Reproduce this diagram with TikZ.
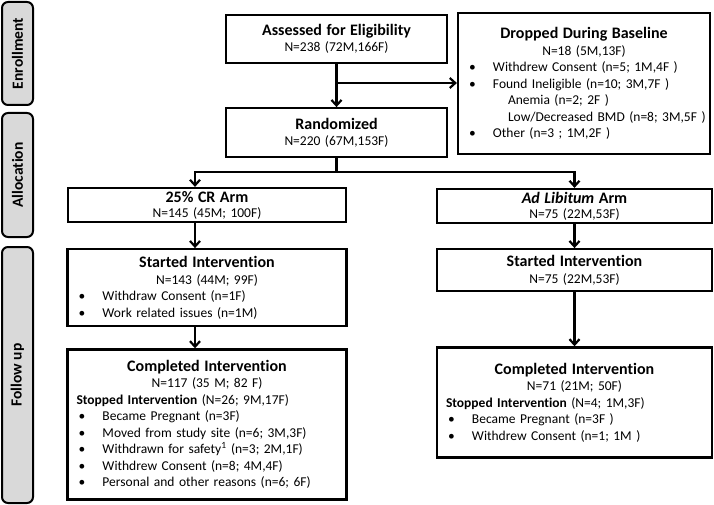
\documentclass[tikz,border=0pt]{standalone}
\usepackage{fontspec}
\setmainfont{Carlito}[Ligatures=NoCommon]
\usetikzlibrary{positioning, arrows.meta}
\setlength{\parindent}{0pt}
\newcommand{\ttl}[1]{{\fontsize{16}{18}\selectfont\bfseries #1}}
\newcommand{\bul}{\makebox[26pt][l]{\hspace{2pt}\textbullet}}

\begin{document}
\begin{tikzpicture}[x=1pt, y=-1pt,
    box/.style={draw, line width=2.2pt, inner xsep=9pt, inner ysep=0pt, align=left,
      font=\fontsize{13.5}{16.5}\selectfont},
    cbox/.style={box, align=center},
    tight/.style={font=\fontsize{13.5}{15}\selectfont},
    phase/.style={draw, line width=2pt, fill=black!15, rounded corners=6pt, rotate=90,
      minimum height=31pt, inner sep=0pt, font=\fontsize{15.5}{18}\selectfont\bfseries},
    arr/.style={-{Straight Barb[length=5.5pt,width=10pt]}, line width=2.2pt},
    link/.style={line width=2.2pt}]
  \useasboundingbox (0,0) rectangle (714,505);

  % phases
  \node[phase, minimum width=103pt] (enrol) at (17.5,53.5) {Enrollment};
  \node[phase, minimum width=124pt] (alloc) at (17.5,175) {Allocation};
  \node[phase, minimum width=256pt] (follow) at (17.5,375) {Follow up};

  % enrollment
  \node[cbox, minimum width=221pt, text width=203pt, minimum height=48pt] (assess) at (336.5,39)
    {\ttl{Assessed for Eligibility}\\ N=238 (72M,166F)};
  \node[box, minimum width=252pt, text width=234pt, minimum height=141pt] (dropped) at (584,83.5)
    {{\centering\ttl{Dropped During Baseline}\\ N=18 (5M,13F)\par}
     \bul Withdrew Consent (n=5; 1M,4F )\\
     \bul Found Ineligible (n=10; 3M,7F )\\
     \hspace*{41pt}Anemia (n=2; 2F )\\
     \hspace*{41pt}\mbox{Low/Decreased BMD (n=8; 3M,5F )}\\
     \bul Other (n=3 ; 1M,2F )};
  \node[cbox, minimum width=221pt, text width=203pt, minimum height=49pt, below=43pt of assess] (rand)
    {\ttl{Randomized}\\ N=220 (67M,153F)};

  % allocation
  \node[cbox, tight, minimum width=278pt, text width=260pt, minimum height=34pt] (cr) at (207,205)
    {\ttl{25\% CR Arm}\\ N=145 (45M; 100F)};
  \node[cbox, tight, minimum width=275pt, text width=257pt, minimum height=34pt] (ad) at (574.5,206)
    {\ttl{\textit{Ad Libitum} Arm}\\ N=75 (22M,53F)};

  % follow up
  \node[box, minimum width=279pt, text width=261pt, minimum height=77pt, below=25pt of cr] (startl)
    {{\centering\ttl{Started Intervention}\\ N=143 (44M; 99F)\par}
     \bul Withdraw Consent (n=1F)\\
     \bul Work related issues (n=1M)};
  \node[box, minimum width=279pt, text width=261pt, minimum height=150pt, below=21pt of startl] (compl)
    {{\centering\ttl{Completed Intervention}\\ N=117 (35 M; 82 F)\par}
     \textbf{Stopped Intervention} (N=26; 9M,17F)\\
     \bul Became Pregnant (n=3F)\\
     \bul Moved from study site (n=6; 3M,3F)\\
     \bul Withdrawn for safety\textsuperscript{1} (n=3; 2M,1F)\\
     \bul Withdrew Consent (n=8; 4M,4F)\\
     \bul Personal and other reasons (n=6; 6F)};
  \node[cbox, minimum width=275pt, text width=257pt, minimum height=42pt, below=24pt of ad] (startr)
    {\ttl{Started Intervention}\\ N=75 (22M,53F)};
  \node[box, minimum width=275pt, text width=257pt, minimum height=110pt, below=54pt of startr] (compr)
    {{\centering\ttl{Completed Intervention}\\ N=71 (21M; 50F)\par}
     \textbf{Stopped Intervention} (N=4; 1M,3F)\\
     \bul Became Pregnant (n=3F )\\
     \bul Withdrew Consent (n=1; 1M )};

  \coordinate (branch) at (336.5,83);
  \coordinate (split) at (336.5,172);

  \draw[arr] (assess) -- (rand);
  \draw[arr] (branch) -- (branch -| dropped.west);
  \draw[link] (rand) -- (split);
  \draw[arr] (split) -| ([xshift=-12pt]cr.north);
  \draw[arr] (split) -| (ad.north);
  \draw[arr] ([xshift=-12pt]cr.south) -- ([xshift=-12pt]startl.north);
  \draw[arr] ([xshift=-12pt]startl.south) -- ([xshift=-12pt]compl.north);
  \draw[arr] (ad) -- (startr);
  \draw[arr] (startr) -- (compr);
\end{tikzpicture}
\end{document}
